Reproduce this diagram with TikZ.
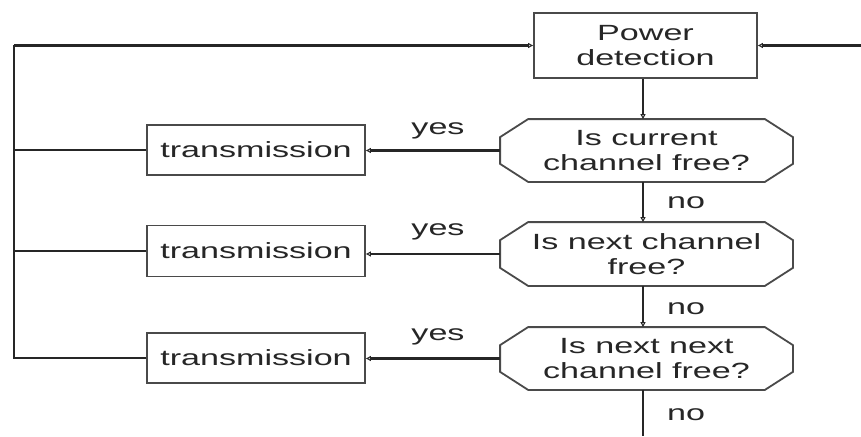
\documentclass[tikz,border=0pt]{standalone}
\usepackage{fontspec}
\setmainfont[FakeStretch=1.55]{Liberation Sans}
\usetikzlibrary{arrows.meta,calc}
\definecolor{ink}{HTML}{262626}
\definecolor{frame}{HTML}{4a4a4a}
\tikzset{
  box/.style={draw=frame, line width=1.8pt, fill=white, text=ink, align=center,
    inner sep=0pt, font=\fontsize{22}{25}\selectfont},
  decision/.style={box, draw=none, fill=none},
  octline/.style={draw=frame, line width=1.8pt, line join=miter},
  link/.style={draw=ink, line width=2.2pt},
  flow/.style={link, -{Triangle[open,length=5pt,width=5pt,line width=1pt]}},
  lbl/.style={text=ink, font=\fontsize{22}{25}\selectfont, inner sep=0pt}
}
% octagonal outline around a decision node: 28 wide, 18 high corner cuts
\newcommand\octa[1]{%
  \draw[octline] ($(#1.north west)+(28,0)$) -- ($(#1.north east)+(-28,0)$)
    -- ($(#1.north east)+(0,18)$) -- ($(#1.south east)+(0,-18)$)
    -- ($(#1.south east)+(-28,0)$) -- ($(#1.south west)+(28,0)$)
    -- ($(#1.south west)+(0,-18)$) -- ($(#1.north west)+(0,18)$) -- cycle;}
\begin{document}
\begin{tikzpicture}[x=1pt,y=-1pt]
\useasboundingbox[fill=white] (0,0) rectangle (861,436);

% main column
\node[box, minimum width=223pt, minimum height=65pt] (power) at (645.5,45.5) {Power\\detection};
\node[decision, minimum width=291pt, minimum height=61pt] (d1) at (646.5,150.5) {Is current\\channel free?};
\node[decision, minimum width=291pt, minimum height=62pt] (d2) at (646.5,254) {Is next channel\\free?};
\node[decision, minimum width=291pt, minimum height=61pt] (d3) at (646.5,358.5) {Is next next\\channel free?};
\octa{d1}
\octa{d2}
\octa{d3}

% transmission boxes
\node[box, minimum width=218pt, minimum height=50pt] (t1) at (256,150) {transmission};
\node[box, minimum width=218pt, minimum height=51pt] (t2) at (256,251) {transmission};
\node[box, minimum width=218pt, minimum height=50pt] (t3) at (256,358) {transmission};

% loop return points
\coordinate (loopTL) at (14,45.5);
\coordinate (loopBL) at (14,358);
\coordinate (fromRight) at (861,45.5);
\coordinate (outBottom) at (643,436);

% downward "no" path
\draw[flow] (power.south -| 643,0) -- (d1.north -| 643,0);
\draw[flow] (d1.south -| 643,0) -- (d2.north -| 643,0);
\draw[flow] (d2.south -| 643,0) -- (d3.north -| 643,0);
\draw[link] (d3.south -| 643,0) -- (outBottom);

% "yes" branches
\draw[flow] (d1.west) -- (d1.west -| t1.east);
\draw[flow] (d2.west) -- (d2.west -| t2.east);
\draw[flow] (d3.west) -- (d3.west -| t3.east);

% return to power detection
\draw[link] (t1.west) -- (t1.west -| loopTL);
\draw[link] (t2.west) -- (t2.west -| loopTL);
\draw[link] (t3.west) -- (loopBL) -- (loopTL);
\draw[flow] (loopTL) -- (power.west);
\draw[flow] (fromRight) -- (power.east);

% labels
\node[lbl] (y1) at (438,131) {yes};
\node[lbl] (y2) at (438,232) {yes};
\node[lbl] (y3) at (438,337) {yes};
\node[lbl] (n1) at (686,203) {no};
\node[lbl] (n2) at (686,309) {no};
\node[lbl] (n3) at (686,415) {no};
\end{tikzpicture}
\end{document}
